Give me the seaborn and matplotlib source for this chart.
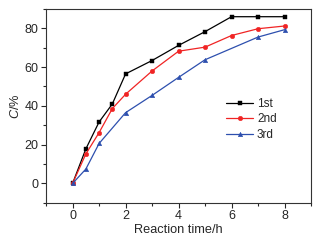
import matplotlib
matplotlib.use("Agg")
import matplotlib.pyplot as plt
import pandas as pd
import seaborn as sns
from matplotlib.ticker import MultipleLocator

# data
x_1st = [0, 0.5, 1, 1.5, 2, 3, 4, 5, 6, 7, 8]
y_1st = [0, 17.8, 31.7, 41.0, 56.5, 63.4, 71.2, 78.3, 86.0, 86.0, 86.0]
x_2nd = [0, 0.5, 1, 1.5, 2, 3, 4, 5, 6, 7, 8]
y_2nd = [0, 15.2, 26.2, 38.6, 46.0, 58.0, 68.2, 70.3, 76.3, 79.8, 81.2]
x_3rd = [0, 0.5, 1, 2, 3, 4, 5, 7, 8]
y_3rd = [0, 7.4, 20.6, 36.5, 45.4, 54.7, 63.8, 75.5, 79.3]
labels = ["1st", "2nd", "3rd"]

sns.set_style("ticks")
plt.rcParams['font.family'] = ['Liberation Sans', 'DejaVu Sans']
plt.rcParams['mathtext.fontset'] = 'custom'
plt.rcParams['mathtext.it'] = 'Liberation Sans:italic'
plt.rcParams['mathtext.rm'] = 'Liberation Sans'

fig, ax = plt.subplots(figsize=(3.18, 2.42), dpi=100)
fig.subplots_adjust(left=0.145, right=0.978, top=0.963, bottom=0.162)

series = [(x_1st, y_1st, "black", "s"),
          (x_2nd, y_2nd, "#f02424", "o"),
          (x_3rd, y_3rd, "#2d4fae", "^")]
for (xs, ys, c, m), lab in zip(series, labels):
    df = pd.DataFrame({"t": xs, "c": ys})
    sns.lineplot(data=df, x="t", y="c", ax=ax, color=c, marker=m,
                 markersize=3.3, markeredgewidth=0.3, markeredgecolor=c,
                 linewidth=0.9, label=lab)

ax.set_xlim(-1, 9)
ax.set_ylim(-10, 90)
ax.xaxis.set_major_locator(MultipleLocator(2))
ax.xaxis.set_minor_locator(MultipleLocator(1))
ax.yaxis.set_major_locator(MultipleLocator(20))
ax.yaxis.set_minor_locator(MultipleLocator(10))
ax.tick_params(which='major', length=3.5, width=0.8, labelsize=9, pad=2,
               top=False, right=False)
ax.tick_params(which='minor', length=2, width=0.8, top=False, right=False)
for s in ax.spines.values():
    s.set_visible(True)
    s.set_linewidth(0.8)
    s.set_color("#333333")

ax.set_xlabel("Reaction time/h", fontsize=9.2, labelpad=1)
ax.set_ylabel("$C$/%", fontsize=9.2, labelpad=2)

ax.legend(loc='center left', bbox_to_anchor=(0.64, 0.43), frameon=False,
          fontsize=8.5, handlelength=2.3, handletextpad=0.3, labelspacing=0.3)

fig.savefig("out.png", dpi=100)
